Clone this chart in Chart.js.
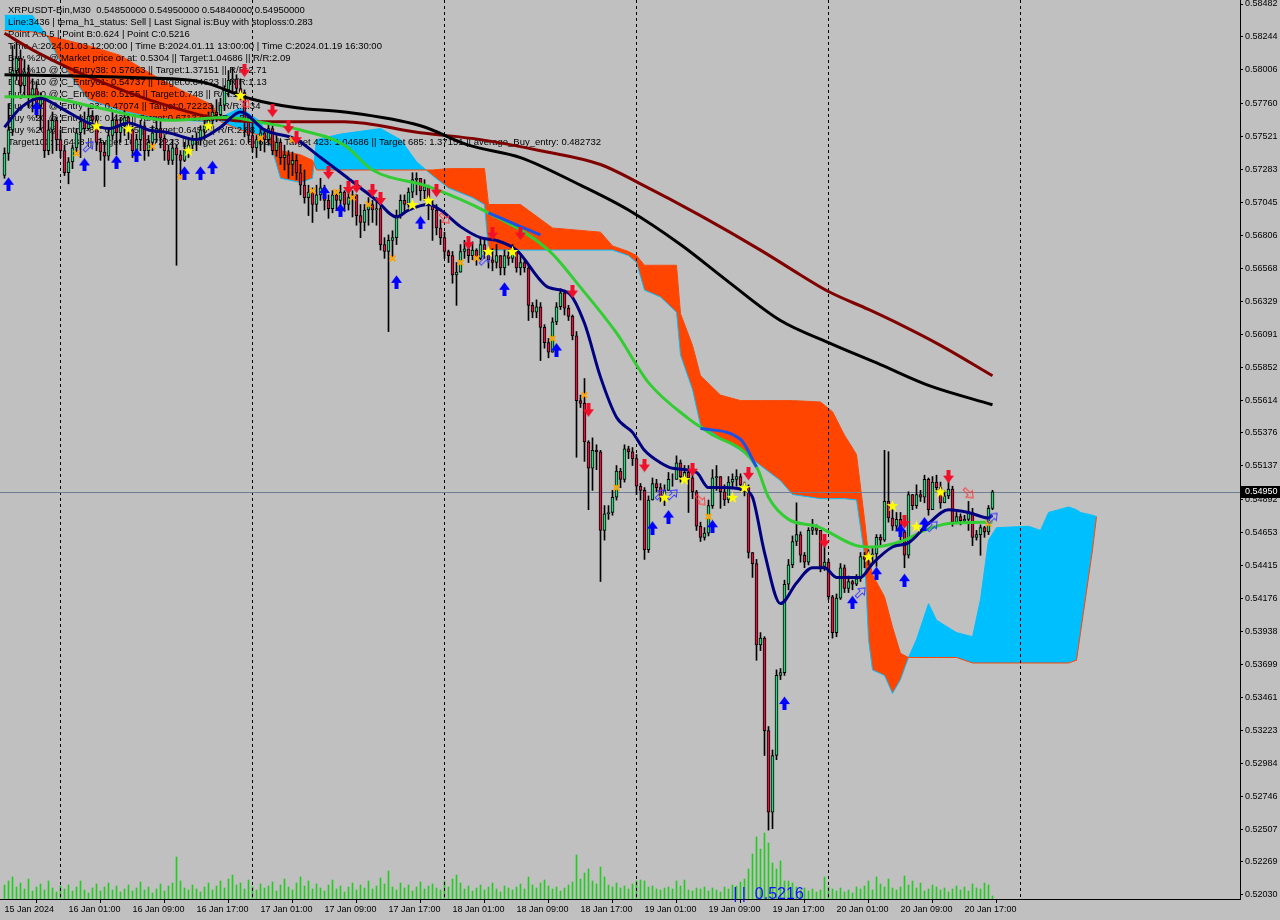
<!DOCTYPE html>
<html>
<head>
<meta charset="utf-8">
<script src="https://cdn.jsdelivr.net/npm/chart.js@4.4.1/dist/chart.umd.min.js"></script>
<style>
  html, body { margin: 0; padding: 0; background: #c0c0c0; }
  #wrap { width: 1280px; height: 920px; }
  canvas { display: block; }
</style>
</head>
<body>
<div id="wrap"><canvas id="chartMain" width="1280" height="920"></canvas></div>
<script>
// XRPUSDT M30, bar 0 = 15 Jan 17:00, one bar every 30 min
const firstOpen = 0.5724;
const closes = [
  0.5740,0.5757,0.5800,0.5809,0.5789,0.5799,0.5782,0.5787,0.5775,0.5779,
  0.5742,0.5757,0.5764,0.5750,0.5742,0.5726,0.5734,0.5744,0.5755,0.5763,
  0.5758,0.5767,0.5764,0.5748,0.5741,0.5738,0.5753,0.5764,0.5755,0.5760,
  0.5766,0.5757,0.5742,0.5750,0.5760,0.5742,0.5748,0.5755,0.5758,0.5751,
  0.5742,0.5735,0.5744,0.5739,0.5735,0.5742,0.5746,0.5750,0.5751,0.5757,
  0.5760,0.5764,0.5770,0.5768,0.5775,0.5786,0.5793,0.5794,0.5787,0.5784,
  0.5764,0.5753,0.5744,0.5750,0.5755,0.5750,0.5758,0.5742,0.5748,0.5737,
  0.5739,0.5732,0.5735,0.5726,0.5717,0.5708,0.5712,0.5703,0.5710,0.5715,
  0.5706,0.5700,0.5710,0.5706,0.5712,0.5703,0.5708,0.5710,0.5695,0.5690,
  0.5699,0.5703,0.5699,0.5700,0.5674,0.5669,0.5677,0.5679,0.5695,0.5706,
  0.5703,0.5712,0.5721,0.5722,0.5713,0.5716,0.5703,0.5699,0.5686,0.5679,
  0.5669,0.5666,0.5652,0.5654,0.5669,0.5671,0.5666,0.5670,0.5664,0.5674,
  0.5669,0.5663,0.5661,0.5666,0.5657,0.5666,0.5664,0.5670,0.5657,0.5661,
  0.5657,0.5630,0.5625,0.5629,0.5614,0.5603,0.5596,0.5618,0.5629,0.5639,
  0.5628,0.5622,0.5608,0.5561,0.5559,0.5531,0.5512,0.5525,0.5524,0.5467,
  0.5479,0.5480,0.5491,0.5510,0.5504,0.5526,0.5524,0.5519,0.5499,0.5496,
  0.5453,0.5489,0.5501,0.5498,0.5491,0.5496,0.5504,0.5504,0.5516,0.5506,
  0.5509,0.5505,0.5495,0.5470,0.5462,0.5465,0.5485,0.5505,0.5506,0.5495,
  0.5489,0.5502,0.5504,0.5506,0.5500,0.5498,0.5451,0.5443,0.5384,0.5389,
  0.5322,0.5263,0.5304,0.5362,0.5364,0.5428,0.5442,0.5459,0.5464,0.5449,
  0.5444,0.5467,0.5469,0.5467,0.5441,0.5444,0.5419,0.5393,0.5418,0.5440,
  0.5425,0.5430,0.5428,0.5432,0.5448,0.5446,0.5449,0.5450,0.5462,0.5460,
  0.5488,0.5476,0.5470,0.5475,0.5466,0.5449,0.5493,0.5485,0.5493,0.5491,
  0.5504,0.5482,0.5502,0.5498,0.5487,0.5492,0.5497,0.5473,0.5477,0.5474,
  0.5475,0.5480,0.5462,0.5464,0.5469,0.5466,0.5483,0.5495
];
const highs = [
  0.5744,0.5776,0.5818,0.5821,0.5815,0.5808,0.5804,0.5794,0.5792,0.5784,
  0.5775,0.5764,0.5770,0.5766,0.5757,0.5746,0.5737,0.5746,0.5758,0.5768,
  0.5770,0.5773,0.5771,0.5767,0.5751,0.5748,0.5757,0.5770,0.5768,0.5766,
  0.5771,0.5767,0.5760,0.5754,0.5764,0.5763,0.5753,0.5760,0.5764,0.5763,
  0.5753,0.5746,0.5750,0.5746,0.5742,0.5748,0.5751,0.5753,0.5755,0.5760,
  0.5766,0.5770,0.5775,0.5779,0.5780,0.5789,0.5800,0.5802,0.5797,0.5794,
  0.5786,0.5766,0.5764,0.5753,0.5760,0.5758,0.5763,0.5760,0.5753,0.5750,
  0.5746,0.5742,0.5741,0.5739,0.5732,0.5728,0.5717,0.5715,0.5717,0.5722,
  0.5717,0.5710,0.5713,0.5713,0.5717,0.5713,0.5712,0.5713,0.5710,0.5703,
  0.5703,0.5708,0.5706,0.5708,0.5703,0.5679,0.5681,0.5684,0.5699,0.5710,
  0.5710,0.5715,0.5726,0.5726,0.5721,0.5721,0.5717,0.5706,0.5703,0.5692,
  0.5683,0.5670,0.5669,0.5661,0.5674,0.5677,0.5674,0.5676,0.5671,0.5679,
  0.5679,0.5670,0.5671,0.5674,0.5664,0.5670,0.5670,0.5674,0.5670,0.5666,
  0.5663,0.5659,0.5632,0.5634,0.5632,0.5616,0.5606,0.5621,0.5632,0.5642,
  0.5641,0.5630,0.5623,0.5611,0.5565,0.5577,0.5532,0.5534,0.5529,0.5525,
  0.5485,0.5485,0.5496,0.5514,0.5512,0.5529,0.5528,0.5527,0.5522,0.5501,
  0.5498,0.5492,0.5505,0.5504,0.5501,0.5500,0.5509,0.5508,0.5521,0.5518,
  0.5514,0.5514,0.5514,0.5496,0.5473,0.5469,0.5489,0.5511,0.5514,0.5506,
  0.5500,0.5506,0.5508,0.5511,0.5508,0.5502,0.5500,0.5451,0.5446,0.5393,
  0.5390,0.5325,0.5308,0.5366,0.5367,0.5431,0.5446,0.5463,0.5487,0.5466,
  0.5451,0.5469,0.5475,0.5471,0.5467,0.5456,0.5446,0.5420,0.5421,0.5443,
  0.5442,0.5434,0.5431,0.5435,0.5451,0.5451,0.5453,0.5454,0.5464,0.5464,
  0.5525,0.5524,0.5482,0.5480,0.5480,0.5467,0.5495,0.5493,0.5500,0.5496,
  0.5507,0.5505,0.5506,0.5507,0.5502,0.5496,0.5508,0.5499,0.5480,0.5479,
  0.5478,0.5488,0.5483,0.5467,0.5471,0.5470,0.5485,0.5496
];
const lows = [
  0.5722,0.5735,0.5753,0.5793,0.5784,0.5782,0.5773,0.5770,0.5766,0.5757,
  0.5737,0.5739,0.5740,0.5742,0.5737,0.5724,0.5718,0.5729,0.5741,0.5737,
  0.5754,0.5757,0.5759,0.5742,0.5735,0.5716,0.5735,0.5750,0.5739,0.5748,
  0.5753,0.5750,0.5737,0.5735,0.5742,0.5735,0.5738,0.5742,0.5748,0.5744,
  0.5735,0.5732,0.5732,0.5659,0.5722,0.5734,0.5737,0.5742,0.5742,0.5746,
  0.5750,0.5757,0.5760,0.5763,0.5764,0.5771,0.5781,0.5784,0.5782,0.5779,
  0.5752,0.5748,0.5741,0.5737,0.5742,0.5741,0.5746,0.5739,0.5738,0.5732,
  0.5728,0.5722,0.5724,0.5721,0.5710,0.5704,0.5695,0.5690,0.5698,0.5706,
  0.5699,0.5693,0.5697,0.5699,0.5703,0.5698,0.5699,0.5694,0.5688,0.5679,
  0.5684,0.5688,0.5690,0.5688,0.5670,0.5664,0.5611,0.5664,0.5674,0.5693,
  0.5698,0.5701,0.5708,0.5710,0.5706,0.5706,0.5692,0.5677,0.5681,0.5674,
  0.5664,0.5661,0.5646,0.5630,0.5659,0.5664,0.5661,0.5663,0.5659,0.5663,
  0.5664,0.5657,0.5655,0.5657,0.5652,0.5652,0.5659,0.5661,0.5654,0.5652,
  0.5654,0.5619,0.5621,0.5621,0.5590,0.5599,0.5592,0.5596,0.5616,0.5627,
  0.5623,0.5619,0.5605,0.5520,0.5556,0.5517,0.5482,0.5496,0.5511,0.5430,
  0.5460,0.5475,0.5478,0.5489,0.5498,0.5502,0.5519,0.5514,0.5493,0.5489,
  0.5446,0.5451,0.5489,0.5495,0.5488,0.5485,0.5496,0.5499,0.5504,0.5502,
  0.5502,0.5480,0.5490,0.5467,0.5459,0.5460,0.5463,0.5483,0.5496,0.5483,
  0.5485,0.5487,0.5498,0.5499,0.5496,0.5492,0.5447,0.5433,0.5373,0.5380,
  0.5304,0.5250,0.5251,0.5301,0.5359,0.5362,0.5424,0.5440,0.5456,0.5444,
  0.5440,0.5442,0.5464,0.5464,0.5437,0.5438,0.5417,0.5389,0.5390,0.5417,
  0.5422,0.5422,0.5424,0.5427,0.5430,0.5440,0.5442,0.5443,0.5441,0.5456,
  0.5459,0.5473,0.5467,0.5467,0.5460,0.5440,0.5447,0.5482,0.5483,0.5488,
  0.5487,0.5478,0.5485,0.5495,0.5483,0.5489,0.5490,0.5470,0.5473,0.5471,
  0.5472,0.5467,0.5456,0.5460,0.5449,0.5462,0.5464,0.5482
];
const volumes = [
  14,18,22,12,16,10,20,8,12,15,9,18,11,7,13,
  10,14,8,12,18,9,6,11,15,8,12,16,9,13,7,10,
  14,8,11,17,9,12,6,10,15,8,13,16,42,18,11,9,
  14,10,7,12,16,9,13,18,11,20,24,14,16,10,19,12,
  9,15,11,13,17,8,14,20,12,9,16,22,13,18,10,15,
  11,8,14,19,10,13,7,12,16,9,14,11,18,10,13,21,
  15,28,12,9,16,11,14,8,12,17,10,13,15,11,9,18,
  12,20,24,16,10,13,8,11,14,9,12,16,10,7,13,11,
  9,12,15,10,22,14,11,16,19,13,10,12,8,11,14,17,
  44,20,26,30,18,15,32,22,14,12,16,11,13,10,15,18,
  19,18,12,13,10,9,11,12,10,18,13,19,9,8,11,10,
  12,8,11,9,7,12,10,14,13,17,20,30,45,62,50,66,
  56,36,30,38,18,18,16,12,9,11,8,10,7,9,22,12,
  10,8,11,7,9,6,12,10,13,18,9,22,15,12,20,11,
  9,12,23,14,18,11,16,8,10,14,12,9,11,7,10,13,
  9,12,8,15,11,10,16,14,3
];

// axis labels
const timeTickIdx = [0, 16, 32, 48, 64, 80, 96, 112, 128, 144, 160, 176, 192, 208, 224, 240];
const timeLabels = ['15 Jan 2024', '16 Jan 01:00', '16 Jan 09:00', '16 Jan 17:00', '17 Jan 01:00', '17 Jan 09:00',
  '17 Jan 17:00', '18 Jan 01:00', '18 Jan 09:00', '18 Jan 17:00', '19 Jan 01:00', '19 Jan 09:00',
  '19 Jan 17:00', '20 Jan 01:00', '20 Jan 09:00', '20 Jan 17:00'];
const daySeparatorIdx = [14, 62, 110, 158, 206, 254];
const priceTickLabels = ['0.58482', '0.58244', '0.58006', '0.57760', '0.57521', '0.57283', '0.57045', '0.56806',
  '0.56568', '0.56329', '0.56091', '0.55852', '0.55614', '0.55376', '0.55137', '0.54892', '0.54653', '0.54415',
  '0.54176', '0.53938', '0.53699', '0.53461', '0.53223', '0.52984', '0.52746', '0.52507', '0.52269', '0.52030'];

// moving averages [bar, price]
const maSlowRed = [[0,0.5827],[7,0.5815],[16,0.5802],[24,0.5792],[36,0.5779],[52,0.5766],[64,0.5763],[85,0.5763],
  [104,0.5755],[119,0.5750],[134,0.5742],[149,0.5732],[159,0.5718],[174,0.5695],[189,0.5670],[199,0.5652],
  [206,0.5640],[216,0.5627],[224,0.5616],[234,0.5601],[247,0.5579]];
const maSlowBlack = [[0,0.5797],[32,0.5795],[49,0.5792],[61,0.5780],[73,0.5773],[85,0.5770],[104,0.5760],[116,0.5746],
  [129,0.5737],[144,0.5717],[156,0.5699],[169,0.5674],[181,0.5647],[194,0.5619],[206,0.5603],[219,0.5587],
  [231,0.5572],[247,0.5558]];
const maMidGreen = [[0,0.5781],[9,0.5781],[22,0.5774],[41,0.5764],[56,0.5766],[65,0.5762],[74,0.5757],[85,0.5746],
  [92,0.5728],[106,0.5716],[121,0.5697],[136,0.5670],[144,0.5643],[153,0.5610],[161,0.5574],[171,0.5548],
  [176,0.5538],[188,0.5513],[191,0.5491],[196,0.5475],[203,0.5470],[213,0.5456],[217,0.5455],[225,0.5460],
  [230,0.5467],[236,0.5472],[247,0.5473]];
const maKijunBlue = [[121,0.5697],[129,0.5687],[134,0.5681],[140,null],[174,0.5541],[184,0.5533],[188,0.5513]];
const maFastNavy = [[0,0.5759],[4,0.5773],[9,0.5780],[14,0.5773],[21,0.5762],[26,0.5758],[31,0.5762],[36,0.5757],
  [41,0.5755],[48,0.5750],[54,0.5759],[59,0.5770],[65,0.5757],[73,0.5750],[79,0.5737],[85,0.5724],[89,0.5715],
  [93,0.5706],[98,0.5694],[101,0.5699],[106,0.5703],[109,0.5699],[114,0.5687],[119,0.5679],[123,0.5677],
  [128,0.5670],[136,0.5643],[141,0.5639],[145,0.5617],[149,0.5578],[153,0.5549],[157,0.5538],[160,0.5525],
  [164,0.5516],[167,0.5512],[173,0.5509],[176,0.5498],[180,0.5498],[185,0.5496],[187,0.5491],[190,0.5451],
  [194,0.5414],[198,0.5429],[202,0.5440],[205,0.5440],[208,0.5433],[214,0.5433],[217,0.5443],[222,0.5455],
  [226,0.5458],[231,0.5472],[236,0.5482],[241,0.5480],[246,0.5476],[247,0.5478]];

// ichimoku cloud [bar, spanA, spanB] (shifted 26 bars ahead)
const cloud = [[0,0.5840,0.5829],[7,0.5840,0.5828],[11,0.5823,0.5825],[14,0.5806,0.5823],[21,0.5779,0.5818],
  [29,0.5771,0.5811],[37,0.5766,0.5797],[44,0.5764,0.5786],[52,0.5763,0.5775],[54,0.5766,0.5763],[59,0.5773,0.5757],
  [64,0.5763,0.5753],[67,0.5742,0.5751],[69,0.5722,0.5742],[74,0.5719,0.5739],[77,0.5722,0.5735],[78,0.5750,0.5728],
  [84,0.5754,0.5728],[94,0.5758,0.5728],[99,0.5750,0.5728],[103,0.5734,0.5728],[107,0.5724,0.5728],[111,0.5715,0.5729],
  [117,0.5708,0.5729],[120,0.5703,0.5729],[121,0.5670,0.5703],[129,0.5670,0.5703],[137,0.5670,0.5686],
  [149,0.5670,0.5683],[152,0.5670,0.5673],[156,0.5666,0.5669],[158,0.5661,0.5666],[160,0.5641,0.5659],
  [164,0.5636,0.5659],[168,0.5625,0.5659],[169,0.5594,0.5624],[172,0.5569,0.5601],[174,0.5543,0.5579],
  [179,0.5534,0.5565],[184,0.5525,0.5561],[189,0.5514,0.5561],[194,0.5503,0.5561],[197,0.5493,0.5561],
  [204,0.5490,0.5560],[207,0.5490,0.5553],[210,0.5490,0.5536],[213,0.5489,0.5522],[215,0.5449,0.5475],
  [216,0.5388,0.5449],[217,0.5366,0.5435],[220,0.5362,0.5419],[222,0.5349,0.5397],[224,0.5359,0.5378],
  [226,0.5375,0.5375],[228,0.5388,0.5375],[231,0.5414,0.5375],[233,0.5402,0.5375],[238,0.5393,0.5375],
  [242,0.5390,0.5371],[244,0.5417,0.5371],[246,0.5460,0.5371],[248,0.5469,0.5371],[256,0.5470,0.5371],
  [259,0.5467,0.5371],[261,0.5480,0.5371],[266,0.5484,0.5371],[268,0.5482,0.5373],[269,0.5480,0.5393],
  [272,0.5478,0.5453],[273,0.5477,0.5477]];

// signal markers [bar, price]
const sellArrows = [[60,0.5800],[67,0.5771],[71,0.5759],[73,0.5751],[81,0.5726],[86,0.5715],[88,0.5716],[92,0.5713],
  [94,0.5707],[108,0.5713],[116,0.5675],[122,0.5682],[129,0.5682],[142,0.5640],[146,0.5554],[160,0.5514],
  [172,0.5511],[186,0.5508],[205,0.5459],[225,0.5473],[236,0.5506]];
const buyArrows = [[1,0.5718],[8,0.5773],[20,0.5732],[28,0.5734],[33,0.5739],[45,0.5726],[49,0.5726],[52,0.5730],
  [80,0.5712],[84,0.5699],[98,0.5647],[104,0.5690],[125,0.5642],[138,0.5598],[162,0.5469],[166,0.5477],
  [177,0.5470],[195,0.5342],[212,0.5415],[218,0.5436],[224,0.5467],[225,0.5431],[230,0.5472]];
const stars = [[23,0.5760],[31,0.5758],[46,0.5742],[51,0.5760],[59,0.5782],[102,0.5703],[106,0.5706],[121,0.5669],
  [127,0.5669],[165,0.5491],[170,0.5504],[182,0.5491],[185,0.5498],[216,0.5448],[222,0.5485],[228,0.5470],[234,0.5495]];
const crosses = [[18,0.5740],[37,0.5745],[44,0.5723],[64,0.5751],[72,0.5750],[77,0.5713],[83,0.5712],[87,0.5708],
  [91,0.5703],[97,0.5664],[114,0.5661],[118,0.5664],[137,0.5606],[145,0.5565],[153,0.5498],[176,0.5477],[246,0.5472]];
const hollowBuy = [[21,0.5745],[120,0.5663],[164,0.5493],[167,0.5493],[214,0.5422],[232,0.5470],[247,0.5476]];
const hollowSell = [[60,0.5777],[110,0.5693],[174,0.5489],[241,0.5494]];

const pointCIdx = 191;
const pointCLabel = '| |  0.5216';
const infoLines = [
  'XRPUSDT-Bin,M30  0.54850000 0.54950000 0.54840000 0.54950000',
  'Line:3436 | tema_h1_status: Sell | Last Signal is:Buy with stoploss:0.283',
  'Point A:0.5 | Point B:0.624 | Point C:0.5216',
  'Time A:2024.01.03 12:00:00 | Time B:2024.01.11 13:00:00 | Time C:2024.01.19 16:30:00',
  'Buy %20 @ Market price or at: 0.5304 || Target:1.04686 || R/R:2.09',
  'Buy %10 @ C_Entry38: 0.57663 || Target:1.37151 || R/R:2.71',
  'Buy %10 @ C_Entry61: 0.54737 || Target:0.84623 || R/R:1.13',
  'Buy %10 @ C_Entry88: 0.5155 || Target:0.748 || R/R:1',
  'Buy %20 @ Entry -23: 0.47074 || Target:0.72223 || R/R:1.34',
  'Buy %20 @ Entry -50: 0.438 || Target:0.67137 || R/R:1.51',
  'Buy %20 @ Entry -88: 0.37645 || Target:0.6456 || R/R:2.88',
  'Target100: 0.6488 || Target 161: 0.72223 || Target 261: 0.84623 || Target 423: 1.04686 || Target 685: 1.37151 || average_Buy_entry: 0.482732'
];

const FONT = '"Liberation Sans", Arial, sans-serif';
const BULL = '#2ed47a';
const BEAR = '#dc143c';

// --- marker images ---
function makeArrow(color, up) {
  const c = document.createElement('canvas');
  c.width = 11; c.height = 14;
  const g = c.getContext('2d');
  if (up) g.setTransform(1, 0, 0, -1, 0, 14);
  g.fillStyle = color;
  g.beginPath();
  g.moveTo(3.5, 0); g.lineTo(7.5, 0); g.lineTo(7.5, 6); g.lineTo(11, 6);
  g.lineTo(5.5, 13.5); g.lineTo(0, 6); g.lineTo(3.5, 6);
  g.closePath(); g.fill();
  return c;
}
function makeStar() {
  const c = document.createElement('canvas');
  c.width = 13; c.height = 13;
  const g = c.getContext('2d');
  g.fillStyle = '#ffff00';
  g.beginPath();
  for (let k = 0; k < 10; k++) {
    const r = k % 2 ? 2.6 : 6.3;
    const a = -Math.PI / 2 + k * Math.PI / 5;
    g.lineTo(6.5 + r * Math.cos(a), 7 + r * Math.sin(a));
  }
  g.closePath(); g.fill();
  return c;
}
function makeHollowArrow(color, angle) {
  const c = document.createElement('canvas');
  c.width = 15; c.height = 15;
  const g = c.getContext('2d');
  g.translate(7.5, 7.5); g.rotate(angle);
  g.strokeStyle = color; g.lineWidth = 1;
  g.beginPath();
  g.moveTo(-1.5, 6); g.lineTo(1.5, 6); g.lineTo(1.5, -1); g.lineTo(4.5, -1);
  g.lineTo(0, -6.5); g.lineTo(-4.5, -1); g.lineTo(-1.5, -1);
  g.closePath(); g.stroke();
  return c;
}

const pts = arr => arr.map(p => ({ x: p[0], y: p[1] }));
const opens = closes.map((c, i) => i === 0 ? firstOpen : closes[i - 1]);

function lineSet(label, arr, color, width, order) {
  return {
    type: 'line', label, data: pts(arr), borderColor: color, borderWidth: width,
    pointRadius: 0, cubicInterpolationMode: 'monotone', spanGaps: false, order
  };
}
function markerSet(label, arr, style, order, extra) {
  return Object.assign({
    type: 'scatter', label, data: pts(arr), pointStyle: style, pointRadius: 5, order
  }, extra || {});
}

const datasets = [
  { type: 'bar', label: 'vol', yAxisID: 'yv', data: volumes.map((v, i) => ({ x: i, y: v })),
    backgroundColor: '#22cc22', barThickness: 1, grouped: false, order: 100 },
  { type: 'line', label: 'spanA', data: cloud.map(p => ({ x: p[0], y: p[1] })), borderColor: '#00bfff',
    borderWidth: 1, pointRadius: 0, tension: 0,
    fill: { target: '+1', above: '#00bfff', below: '#ff4500' }, order: 91 },
  { type: 'line', label: 'spanB', data: cloud.map(p => ({ x: p[0], y: p[2] })), borderColor: '#ff4500',
    borderWidth: 1, pointRadius: 0, tension: 0, fill: false, order: 90 },
  { type: 'bar', label: 'wick', grouped: false, barThickness: 1, backgroundColor: '#000',
    data: closes.map((c, i) => ({ x: i, y: [Math.min(lows[i], opens[i], c), Math.max(highs[i], opens[i], c)] })),
    order: 80 },
  { type: 'bar', label: 'body', grouped: false, barThickness: 3, borderWidth: 1, borderColor: '#000',
    borderSkipped: false,
    backgroundColor: closes.map((c, i) => c >= opens[i] ? BULL : BEAR),
    data: closes.map((c, i) => ({ x: i, y: [opens[i], c] })), order: 79 },
  lineSet('ma slow red', maSlowRed, '#800000', 3, 70),
  lineSet('ma slow black', maSlowBlack, '#000000', 3, 69),
  lineSet('ma mid', maMidGreen, '#32cd32', 3, 68),
  lineSet('kijun', maKijunBlue, '#1e50e6', 3, 67),
  lineSet('ma fast', maFastNavy, '#000080', 3, 66),
  markerSet('cross', crosses, 'crossRot', 55, { pointRadius: 4, borderColor: '#ffa500', borderWidth: 2 }),
  markerSet('hollow buy', hollowBuy, makeHollowArrow('#3a3aff', Math.PI / 4), 54),
  markerSet('hollow sell', hollowSell, makeHollowArrow('#ff3c3c', Math.PI * 3 / 4), 53),
  markerSet('star', stars, makeStar(), 52),
  markerSet('sell', sellArrows, makeArrow('#f0102a', false), 51),
  markerSet('buy', buyArrows, makeArrow('#0000ff', true), 50)
];
const spanBIndex = 2;

// text, day separators and bid line go between the cloud and the candles
const overlayPlugin = {
  id: 'mtOverlay',
  afterDatasetDraw(chart, args) {
    if (args.index !== spanBIndex) return;
    const { ctx, chartArea: a, scales: { x, y } } = chart;
    ctx.save();
    ctx.font = '9.5px ' + FONT;
    ctx.fillStyle = '#000';
    ctx.textBaseline = 'middle';
    infoLines.forEach((t, k) => ctx.fillText(t, 8, 10 + k * 12));

    ctx.beginPath();
    ctx.rect(a.left, a.top, a.right - a.left, a.bottom - a.top);
    ctx.clip();
    ctx.strokeStyle = '#000';
    ctx.lineWidth = 1;
    ctx.setLineDash([3, 3]);
    daySeparatorIdx.forEach(d => {
      const px = Math.floor(x.getPixelForValue(d)) + 0.5;
      ctx.beginPath(); ctx.moveTo(px, a.top); ctx.lineTo(px, a.bottom); ctx.stroke();
    });
    ctx.setLineDash([]);
    const py = Math.round(y.getPixelForValue(closes[closes.length - 1])) + 0.5;
    ctx.strokeStyle = '#6e7f96';
    ctx.beginPath(); ctx.moveTo(a.left, py); ctx.lineTo(a.right, py); ctx.stroke();
    ctx.restore();
  },
  afterDraw(chart) {
    const { ctx, chartArea: a, scales: { x, y } } = chart;
    ctx.save();
    // point C label
    ctx.font = '16px ' + FONT;
    ctx.fillStyle = '#1010ff';
    ctx.textAlign = 'center';
    ctx.textBaseline = 'alphabetic';
    ctx.fillText(pointCLabel, x.getPixelForValue(pointCIdx), a.bottom);
    // bid price box
    const last = closes[closes.length - 1];
    const py = Math.round(y.getPixelForValue(last));
    ctx.fillStyle = '#000';
    ctx.fillRect(a.right + 1, py - 6, 40, 12);
    ctx.fillStyle = '#fff';
    ctx.font = '9px ' + FONT;
    ctx.textAlign = 'left';
    ctx.textBaseline = 'middle';
    ctx.fillText(last.toFixed(5), a.right + 5, py);
    ctx.restore();
  }
};

const ctx = document.getElementById('chartMain').getContext('2d');
new Chart(ctx, {
  type: 'bar',
  data: { datasets },
  options: {
    responsive: false,
    animation: false,
    devicePixelRatio: 1,
    layout: { padding: 0, autoPadding: false },
    plugins: { legend: { display: false }, tooltip: { enabled: false } },
    scales: {
      x: {
        type: 'linear', min: -1.125, max: 308.875, offset: false,
        afterBuildTicks: s => { s.ticks = timeTickIdx.map(v => ({ value: v })); },
        afterFit: s => { s.height = 21; s.paddingLeft = 0; s.paddingRight = 0; },
        ticks: {
          autoSkip: false, maxRotation: 0, align: 'start', padding: 1, color: '#000',
          font: { family: FONT, size: 9 },
          callback: (v, i) => timeLabels[i]
        },
        grid: { drawOnChartArea: false, drawTicks: true, tickLength: 4, color: '#000' },
        border: { display: true, color: '#000', width: 1 }
      },
      y: {
        position: 'right', min: 0.52001, max: 0.58511,
        afterBuildTicks: s => { s.ticks = priceTickLabels.map(v => ({ value: parseFloat(v) })); },
        afterFit: s => { s.width = 40; s.paddingTop = 0; s.paddingBottom = 0; },
        ticks: {
          autoSkip: false, padding: 2, color: '#000',
          font: { family: FONT, size: 9 },
          callback: (v, i) => priceTickLabels[i]
        },
        grid: { drawOnChartArea: false, drawTicks: true, tickLength: 3, color: '#000' },
        border: { display: true, color: '#000', width: 1 }
      },
      yv: { display: false, min: 0, max: 899 }
    }
  },
  plugins: [overlayPlugin]
});
</script>
</body>
</html>
